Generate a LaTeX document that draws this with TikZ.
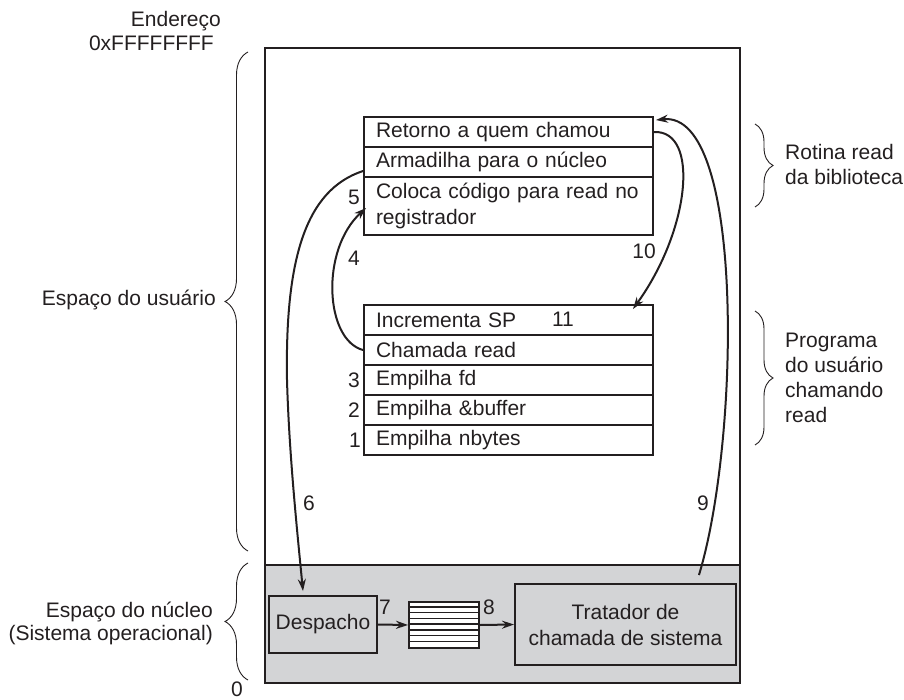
\documentclass[tikz,border=0pt]{standalone}
\usepackage{fontspec}
\setmainfont{Liberation Sans}
\usetikzlibrary{arrows.meta,decorations.pathreplacing,calc}
\definecolor{kgray}{RGB}{211,212,214}
\definecolor{ink}{RGB}{35,31,32}
\begin{document}
\begin{tikzpicture}[x=1pt,y=-1pt,
  font=\fontsize{21}{26}\selectfont, color=ink,
  box/.style={draw=ink, line width=1.9pt, inner sep=0pt},
  row/.style={draw=ink, line width=1.9pt, minimum width=289pt, minimum height=30pt,
    text width=265pt, inner xsep=12pt, inner ysep=0pt, align=left},
  lbl/.style={inner sep=0pt},
  arr/.style={line width=2pt, -{Stealth[length=12pt,width=8pt]}},
  brc/.style={decorate, decoration={brace, amplitude=23pt}, line width=0.9pt},
  brcr/.style={decorate, decoration={brace, amplitude=18pt}, line width=0.9pt},
]
\useasboundingbox (0,0) rectangle (904,700);

% memory regions
\node[draw=ink, line width=2.1pt, minimum width=475pt, minimum height=517pt, inner sep=0pt] (user) at (502.5,306.5) {};
\node[draw=ink, fill=kgray, line width=2.1pt, minimum width=475pt, minimum height=118pt, inner sep=0pt] (kern) at (502.5,624) {};

% library routine
\node[row] (r1) at (508.5,132) {Retorno a quem chamou};
\node[row] (r2) at (508.5,162) {Armadilha para o núcleo};
\node[row, minimum height=58pt] (r3) at (508.5,206) {Coloca código para read no\\registrador};

% user program
\node[row] (c1) at (508.5,320) {Incrementa SP};
\node[row] (c2) at (508.5,350) {Chamada read};
\node[row] (c3) at (508.5,380) {Empilha fd};
\node[row] (c4) at (508.5,410) {Empilha \&buffer};
\node[row] (c5) at (508.5,440) {Empilha nbytes};

% kernel parts
\node[box, fill=kgray, minimum width=108pt, minimum height=57pt] (desp) at (323,624.5) {Despacho};
\node[box, fill=white, minimum width=70pt, minimum height=46pt] (fila) at (444,625) {};
\foreach \i in {1,...,7}
  \draw[line width=1.4pt] ($(fila.north west)+(0,\i*5.75)$) -- ($(fila.north east)+(0,\i*5.75)$);
\node[box, fill=kgray, minimum width=221pt, minimum height=81pt, align=center] (trat) at (625.5,624.5) {Tratador de\\chamada de sistema};

% arrows
\draw[arr] ([yshift=-9pt]r2.west) .. controls (305,190) and (285,260) .. (287,380)
  .. controls (289,450) and (296,520) .. ([xshift=-20pt,yshift=4pt]desp.north);
\draw[arr] (c2.west) .. controls (325,340) and (320,250) .. ([xshift=3pt,yshift=-2pt]r3.west);
\draw[arr] (r1.east) .. controls (700,130) and (690,230) .. ([xshift=-21pt,yshift=-5pt]c1.north east);
\draw[arr] ([xshift=-38pt,yshift=8pt]trat.north east) .. controls (740,440) and (745,110) .. ([xshift=2pt,yshift=-4pt]r1.north east);
\draw[arr] (desp.east) -- (fila.west);
\draw[arr] (fila.east) -- (trat.west);

% step numbers
\node[lbl] (n5) at (354,197) {5};
\node[lbl] (n4) at (354,258) {4};
\node[lbl] (n10) at (644,251) {10};
\node[lbl] (n11) at (563,319) {11};
\node[lbl] (n3) at (354,380) {3};
\node[lbl] (n2) at (354,410) {2};
\node[lbl] (n1) at (355,440) {1};
\node[lbl] (n6) at (309,503) {6};
\node[lbl] (n9) at (703,503) {9};
\node[lbl] (n7) at (385,607) {7};
\node[lbl] (n8) at (489,607) {8};

% left labels
\node[lbl, anchor=east] (end) at (221,21) {Endereço};
\node[lbl, anchor=east] (ffff) at (214,43) {0xFFFFFFFF};
\node[lbl, anchor=east] (esu) at (216,300) {Espaço do usuário};
\node[lbl, anchor=east, align=right, font=\fontsize{21}{23}\selectfont] (esk) at (213,623) {Espaço do núcleo\\(Sistema operacional)};
\node[lbl, anchor=south] (zero) at (237,697) {0};

% right labels
\node[lbl, anchor=west, align=left, font=\fontsize{21}{25}\selectfont] (rot) at (785,164.5) {Rotina read\\da biblioteca};
\node[lbl, anchor=west, align=left, font=\fontsize{21}{25}\selectfont] (prog) at (785,377.5) {Programa\\do usuário\\chamando\\read};

% braces
\draw[brc] (248,551) -- (248,52);
\draw[brc] (248,680) -- (248,563);
\draw[brcr] (755,124) -- (755,207);
\draw[brcr] (755,311) -- (755,445);
\end{tikzpicture}
\end{document}
